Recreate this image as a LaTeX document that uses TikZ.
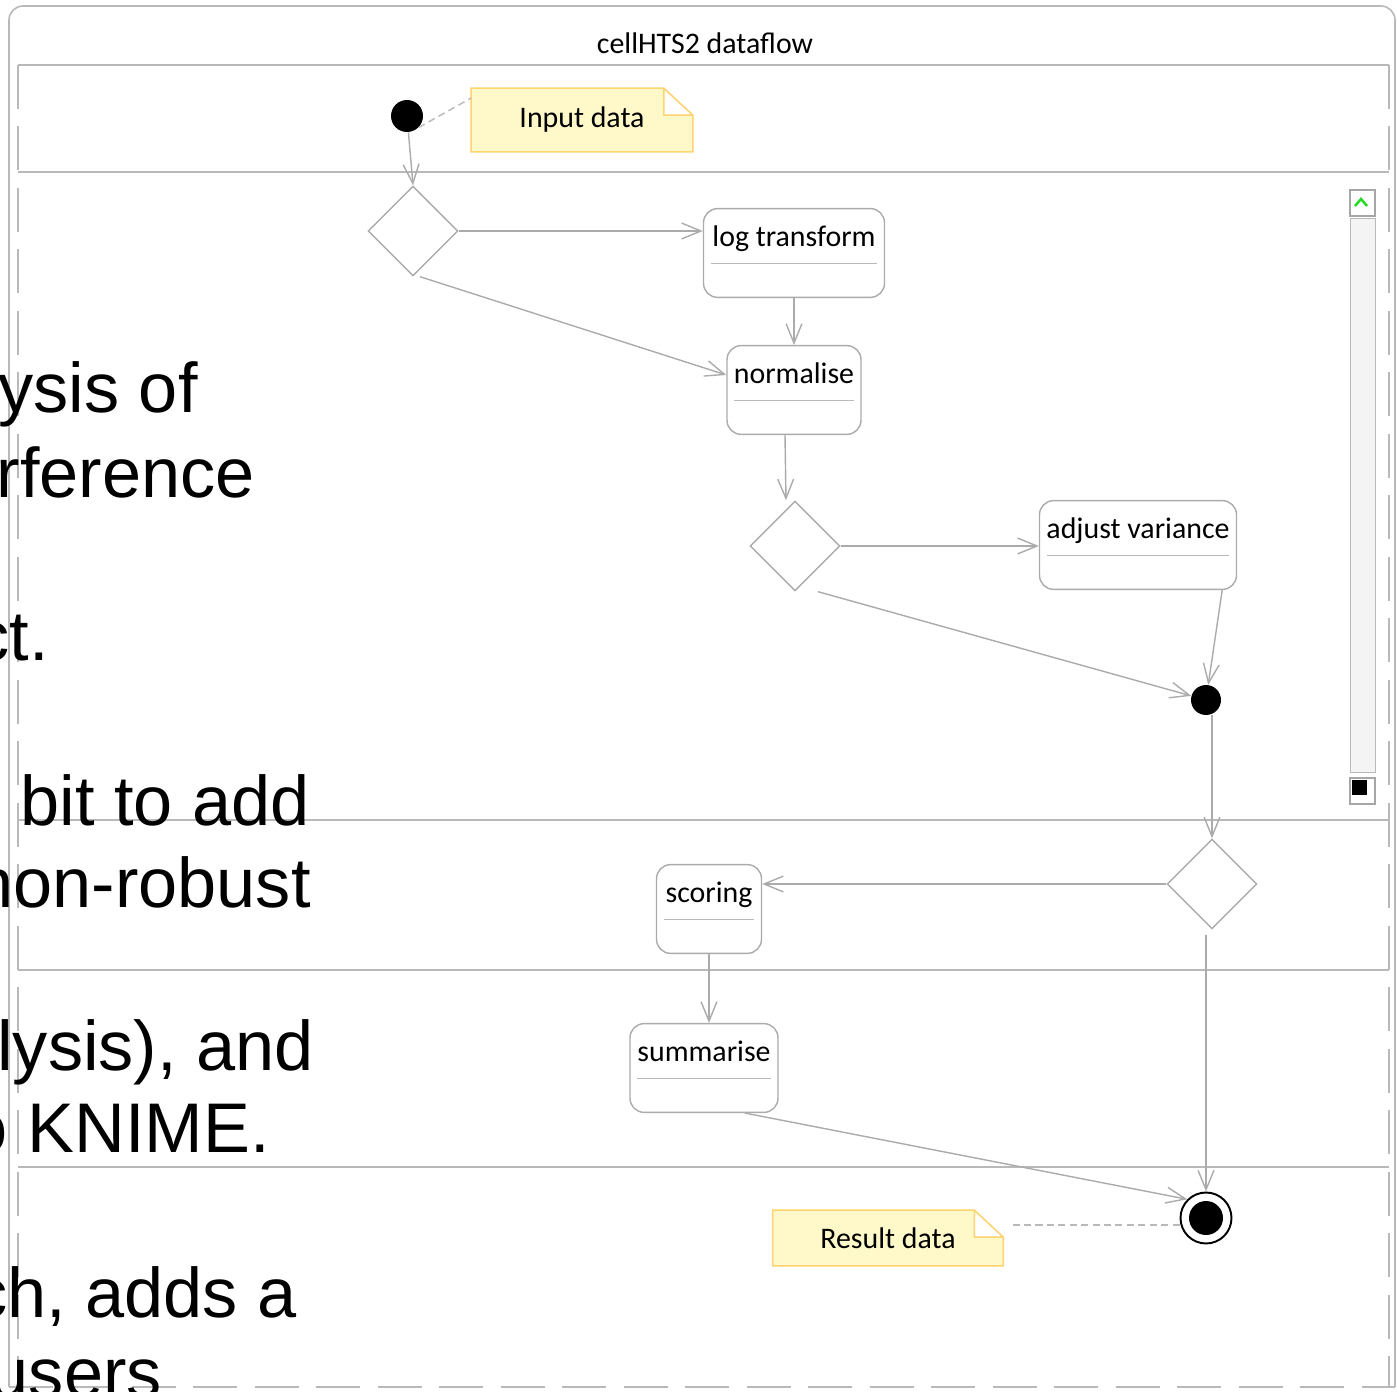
\documentclass[tikz,border=0pt]{standalone}
\usepackage{fontspec}
\usepackage{tikz}
\usetikzlibrary{arrows.meta, positioning, calc, shapes.geometric, backgrounds}
\newfontfamily\umlfont{Carlito}
\newfontfamily\slidefont{Liberation Sans}
\definecolor{lanegray}{HTML}{B9B9B9}
\definecolor{flowgray}{HTML}{ABABAB}
\definecolor{memofill}{HTML}{FFF9C9}
\definecolor{memoline}{HTML}{FFD370}
\definecolor{trackgray}{HTML}{F4F4F4}
\definecolor{scrollgreen}{HTML}{22DD22}

\begin{document}
\begin{tikzpicture}[
  x=0.02cm, y=-0.02cm,
  lane/.style={draw=lanegray, line width=0.9pt},
  lanedash/.style={lane, dash pattern=on 25pt off 10pt},
  flow/.style={draw=flowgray, line width=0.8pt, ->},
  link/.style={draw=lanegray, line width=0.8pt, dash pattern=on 4pt off 2.5pt},
  action/.style={draw=flowgray, line width=0.8pt, rounded corners=8pt, fill=white,
                 font=\umlfont\fontsize{17}{20}\selectfont, inner xsep=2pt, inner ysep=0pt,
                 text height=21.5pt, text depth=29pt},
  decision/.style={diamond, draw=flowgray, line width=0.8pt, fill=white, inner sep=0pt,
                   minimum width=1.8cm, minimum height=1.8cm},
  blob/.style={circle, fill=black, inner sep=0pt, minimum size=#1},
  bullseye/.style={circle, draw=black, line width=1.1pt, fill=white, inner sep=0pt,
                   minimum size=1.02cm,
                   path picture={\fill[black] (path picture bounding box.center) circle (0.34cm);}},
  memo/.style={font=\umlfont\fontsize{17}{20}\selectfont, inner sep=0pt},
  slidetext/.style={font=\slidefont\fontsize{40}{47}\selectfont, anchor=base east, inner sep=0pt},
  >={Straight Barb[length=11pt, width=9pt]}]
\useasboundingbox (0,0) rectangle (1397,1392);
\clip (0,0) rectangle (1397,1392);

% frame and swimlanes
\draw[lane, rounded corners=8pt] (9,1387) -- (9,6) -- (1395,6) -- (1395,1387);
\draw[lanedash] (9,1387) -- (1395,1387);
\foreach \y in {65,172,820,970,1167}
  \draw[lane] (18,\y) -- (1389,\y);
\draw[lanedash] (18,65) -- (18,1387);
\draw[lanedash] (1389,65) -- (1389,1387);
\node[memo] (title) at (705,43) {cellHTS2 dataflow};

% scrollbar
\draw[draw=lanegray, fill=trackgray] (1350,218) rectangle (1375,772);
\draw[draw=gray!70, fill=white, line width=0.9pt] (1350,190) rectangle (1375,216);
\draw[scrollgreen, line width=1.4pt] (1355,206) -- (1361,199) -- (1367,206);
\draw[draw=gray!70, fill=white, line width=0.9pt] (1350,778) rectangle (1375,804);
\fill[black] (1352,780) rectangle (1367,795);

% slide text behind the window
\node[slidetext] (s1) at (198,413) {ysis of};
\node[slidetext] (s2) at (255,497) {rference};
\node[slidetext] (s3) at (49,660) {ct.};
\node[slidetext] (s4) at (310,825) {bit to add};
\node[slidetext] (s5) at (311,907) {non-robust};
\node[slidetext] (s6) at (314,1070) {lysis), and};
\node[slidetext] (s7) at (270,1152) {o KNIME.};
\node[slidetext] (s8) at (297,1317) {ch, adds a};
\node[slidetext] (s9) at (162,1397) {users};

% activity nodes
\node[blob=0.64cm] (start) at (407,116) {};
\node[memo, minimum width=4.42cm, minimum height=1.26cm] (indata) at (582,120) {Input data};
\node[decision] (dec1) at (413,231) {};
\node[action, minimum width=3.62cm] (logt) at (794,253) {log transform};
\node[action, minimum width=2.68cm] (norm) at (794,390) {normalise};
\node[decision] (dec2) at (795,546) {};
\node[action, minimum width=3.94cm] (adjv) at (1138,545) {adjust variance};
\node[blob=0.6cm] (join) at (1206,700) {};
\node[decision] (dec3) at (1212,884) {};
\node[action, minimum width=2.1cm] (scor) at (709,909) {scoring};
\node[action, minimum width=2.96cm] (summ) at (704,1068) {summarise};
\node[bullseye] (final) at (1206,1218) {};
\node[memo, minimum width=4.6cm, minimum height=1.1cm] (resdata) at (888,1238) {Result data};

\foreach \n in {logt,norm,adjv,scor,summ}
  \draw[lane] ([xshift=0.16cm, yshift=-0.34cm]\n.base west) -- ([xshift=-0.16cm, yshift=-0.34cm]\n.base east);

\begin{scope}[on background layer]
\foreach \m in {indata,resdata}
  \draw[draw=memoline, fill=memofill, line width=0.9pt]
    (\m.north west) -- ([xshift=-0.58cm]\m.north east) -- ([yshift=-0.54cm]\m.north east)
    -- (\m.south east) -- (\m.south west) -- cycle
    ([xshift=-0.58cm]\m.north east) |- ([yshift=-0.54cm]\m.north east);
\end{scope}

% connectors
\draw[link] (start.south east) -- ([yshift=0.44cm]indata.west);
\draw[link, shorten >=0.2cm] ([yshift=-0.14cm]final.west) -- ([yshift=-0.14cm]final.west -| resdata.east);
\draw[flow] (start) -- (dec1.north);
\draw[flow] (dec1.east) -- (dec1.east -| logt.west);
\draw[flow] ([xshift=0.14cm]dec1.south) -- ([yshift=0.3cm]norm.west);
\draw[flow] (logt) -- (norm);
\draw[flow] ([xshift=-0.18cm]norm.south) -- ([xshift=-0.18cm]dec2.north);
\draw[flow] (dec2.east) -- (dec2.east -| adjv.west);
\draw[flow] ([xshift=-0.3cm]adjv.south east) -- (join);
\draw[flow] ([xshift=0.46cm]dec2.south) -- (join);
\draw[flow] (join.south -| dec3.north) -- (dec3.north);
\draw[flow] (dec3.west) -- (dec3.west -| scor.east);
\draw[flow] (scor.south) -- (scor.south |- summ.north);
\draw[flow] ([xshift=0.82cm]summ.south) -- (final.north west);
\draw[flow] ([yshift=-0.1cm]dec3.south -| final.north) -- (final.north);
\end{tikzpicture}
\end{document}
